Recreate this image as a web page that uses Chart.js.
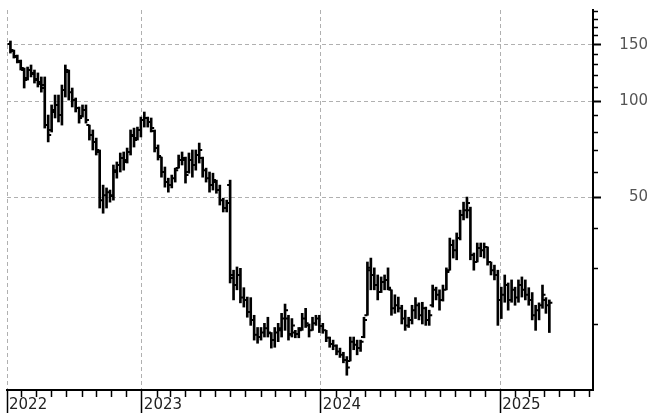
<!DOCTYPE html>
<html>
<head>
<meta charset="utf-8">
<script src="https://cdn.jsdelivr.net/npm/chart.js@4"></script>
<style>
  body { margin: 0; background: #fff; }
  canvas { display: block; }
</style>
</head>
<body>
<canvas id="myChart" width="648" height="413"></canvas>
<script>
// weekly OHLC, first bar in the week of 2022-04-08
const firstWeek = Date.UTC(2022, 3, 8);

const opens = [150.8, 143.3, 137.2, 132.4, 125.0, 118.0, 125.0, 122.4, 117.2, 114.7,
  112.2, 84.1, 81.2, 92.4, 97.2, 90.4, 108.2, 123.3, 106.6, 100.7,
  95.1, 89.7, 93.7, 84.1, 78.3, 74.5, 69.3, 49.0, 50.8, 51.9,
  50.8, 60.0, 63.1, 66.4, 65.4, 69.3, 77.8, 76.6, 81.2, 87.2,
  88.5, 86.0, 80.6, 71.3, 66.8, 60.0, 55.8, 54.6, 57.4, 61.7,
  65.4, 65.4, 60.0, 65.4, 63.1, 67.8, 66.4, 60.8, 57.4, 54.6,
  55.8, 52.7, 49.0, 46.3, 54.6, 28.0, 26.6, 28.6, 24.3, 23.9,
  21.9, 20.7, 18.6, 18.3, 18.9, 19.5, 18.8, 17.9, 18.9, 19.2,
  20.9, 20.9, 18.7, 18.9, 18.7, 19.5, 20.9, 19.9, 19.2, 20.2,
  20.9, 19.8, 19.2, 18.2, 17.4, 17.2, 16.5, 16.1, 15.5, 15.4,
  17.7, 17.3, 16.9, 18.3, 21.4, 30.1, 28.6, 26.6, 25.3, 27.2,
  27.6, 25.7, 22.5, 23.0, 22.5, 20.9, 19.9, 20.7, 22.2, 23.0,
  21.4, 22.5, 20.7, 23.0, 25.7, 24.8, 23.9, 25.7, 29.6, 35.5,
  34.2, 37.3, 44.0, 45.6, 45.6, 33.0, 31.4, 34.7, 34.2, 35.0,
  31.4, 29.6, 28.6, 23.9, 24.8, 26.6, 23.9, 25.7, 24.3, 26.6,
  25.7, 24.8, 23.9, 21.4, 22.2, 23.0, 23.9, 23.0];

const highs = [154.0, 144.3, 139.2, 134.3, 126.8, 127.7, 129.6, 125.0, 122.4, 118.9,
  118.9, 90.4, 97.2, 104.4, 104.4, 112.2, 129.6, 125.0, 109.8, 102.2,
  95.8, 97.2, 97.2, 84.1, 81.2, 76.6, 70.3, 54.6, 53.5, 52.7,
  63.1, 64.5, 68.8, 69.3, 71.3, 81.2, 82.3, 82.9, 89.1, 92.4,
  89.1, 88.5, 81.2, 72.9, 66.8, 62.2, 57.4, 58.7, 61.7, 67.8,
  69.3, 66.8, 68.8, 70.3, 70.3, 73.9, 66.8, 61.7, 60.0, 59.5,
  56.6, 54.6, 49.7, 49.0, 56.6, 29.6, 30.3, 30.0, 26.1, 24.4,
  24.3, 21.4, 19.6, 19.6, 20.2, 21.1, 18.9, 19.6, 20.2, 21.7,
  23.2, 21.4, 20.9, 19.2, 19.6, 21.7, 22.5, 20.1, 21.1, 21.4,
  21.4, 20.2, 19.2, 18.3, 17.9, 17.3, 16.9, 16.4, 15.9, 18.3,
  18.3, 17.9, 17.9, 21.1, 31.4, 32.3, 30.1, 28.6, 28.2, 28.6,
  30.1, 25.7, 24.8, 24.4, 23.0, 22.2, 21.1, 23.0, 24.3, 23.4,
  23.5, 22.7, 22.2, 26.6, 26.2, 25.7, 26.6, 30.1, 37.3, 36.8,
  38.7, 45.6, 48.3, 50.1, 46.6, 33.5, 36.0, 36.0, 36.0, 35.0,
  31.4, 30.7, 29.6, 26.2, 28.6, 27.0, 27.6, 26.2, 27.6, 28.2,
  27.6, 26.1, 25.2, 23.0, 23.4, 26.6, 24.3, 23.9];

const lows = [141.2, 136.2, 131.5, 125.0, 109.8, 116.3, 118.9, 113.8, 110.6, 106.6,
  82.3, 74.5, 80.0, 88.5, 86.0, 84.1, 102.9, 100.7, 95.8, 92.4,
  85.3, 89.1, 85.3, 75.5, 70.3, 67.8, 46.3, 44.6, 46.3, 48.3,
  49.0, 57.4, 60.0, 60.8, 64.0, 67.8, 71.8, 75.5, 77.2, 82.9,
  82.9, 80.0, 69.3, 65.4, 57.8, 53.8, 51.9, 53.5, 55.8, 61.7,
  63.1, 55.4, 59.5, 57.8, 60.8, 64.0, 57.8, 55.8, 51.9, 52.7,
  51.5, 47.3, 45.0, 45.0, 27.0, 23.9, 25.7, 23.4, 22.7, 21.1,
  19.9, 17.9, 17.5, 17.9, 18.3, 18.3, 16.9, 17.0, 17.7, 18.3,
  19.2, 17.9, 18.3, 18.2, 18.2, 19.2, 19.6, 18.3, 19.2, 19.9,
  18.9, 18.8, 17.7, 17.0, 16.7, 16.1, 15.8, 15.2, 13.9, 15.4,
  16.7, 16.1, 16.5, 18.2, 21.4, 25.7, 25.7, 23.9, 25.2, 25.7,
  25.7, 21.4, 21.7, 21.9, 20.1, 19.2, 19.6, 20.1, 20.9, 20.7,
  20.1, 19.9, 19.9, 22.7, 23.9, 22.2, 23.7, 25.7, 29.6, 32.3,
  31.9, 36.8, 42.5, 43.1, 31.9, 29.6, 31.4, 32.6, 32.3, 30.7,
  28.6, 27.6, 19.9, 20.9, 23.5, 22.2, 23.5, 23.0, 23.5, 24.4,
  23.9, 23.0, 20.7, 19.2, 20.7, 22.5, 21.7, 18.9];

const closes = [144.3, 138.2, 133.4, 126.8, 116.3, 125.0, 121.5, 116.3, 113.0, 109.8,
  84.1, 78.3, 93.7, 97.2, 90.4, 108.2, 125.0, 106.6, 100.7, 95.1,
  88.5, 93.7, 87.2, 78.3, 74.5, 70.3, 49.0, 50.8, 51.9, 50.5,
  60.8, 63.1, 66.4, 64.5, 69.3, 78.3, 75.5, 81.2, 87.2, 88.5,
  86.0, 82.3, 71.3, 67.3, 60.0, 55.8, 54.6, 57.4, 60.8, 65.4,
  66.4, 58.7, 65.4, 63.1, 67.8, 70.3, 60.8, 57.4, 54.6, 56.6,
  52.7, 49.0, 46.3, 48.0, 28.6, 26.6, 28.6, 24.3, 23.9, 21.9,
  20.7, 18.6, 18.3, 18.9, 19.5, 18.9, 17.9, 18.9, 19.5, 20.9,
  22.2, 18.6, 19.9, 18.7, 19.2, 20.9, 20.2, 19.2, 20.2, 20.9,
  19.8, 19.2, 18.2, 17.4, 17.2, 16.5, 16.1, 15.5, 14.7, 17.7,
  17.3, 16.9, 17.7, 20.7, 29.6, 28.6, 26.6, 25.3, 27.2, 27.6,
  26.1, 22.5, 23.0, 22.5, 20.9, 19.9, 20.7, 22.2, 23.0, 21.4,
  22.5, 20.7, 21.4, 25.7, 24.8, 23.9, 25.7, 29.2, 35.5, 34.2,
  37.3, 44.0, 45.6, 48.0, 33.0, 31.4, 34.7, 34.2, 35.0, 31.4,
  29.6, 28.6, 23.9, 24.8, 26.6, 23.9, 25.7, 24.3, 26.6, 25.7,
  24.8, 23.9, 21.4, 22.2, 23.0, 24.8, 23.0, 23.4];

// price axis
const priceLabels = [50, 100, 150];
const priceTicks = [20, 30, 40, 50, 60, 70, 80, 90, 100, 110, 120, 130, 140, 150, 160, 170, 180, 190];

// time axis
const yearTicks = [Date.UTC(2022, 3, 1), Date.UTC(2023, 0, 1), Date.UTC(2024, 0, 1), Date.UTC(2025, 0, 1)];
const yearLabels = ["2022", "2023", "2024", "2025"];
const xMin = Date.UTC(2022, 3, 1);
const xMax = Date.UTC(2025, 6, 9);

const DAY = 24 * 3600 * 1000;
const weekDates = highs.map((h, i) => firstWeek + i * 7 * DAY);

const monthTicks = [];
for (let y = 2022; y <= 2025; y++) {
  for (let m = 0; m < 12; m++) {
    const t = Date.UTC(y, m, 1);
    if (t >= xMin && t <= xMax) monthTicks.push(t);
  }
}

// no extra room for edge labels, the plot area is set by layout padding
function noEdgePadding(scale) {
  scale.paddingTop = 0;
  scale.paddingBottom = 0;
  scale.paddingLeft = 0;
  scale.paddingRight = 0;
}

// open tick on the left, close tick on the right of each bar
const ohlcTicks = {
  id: "ohlcTicks",
  afterDatasetsDraw(chart) {
    const { ctx } = chart;
    const x = chart.scales.x;
    const y = chart.scales.y;
    ctx.save();
    ctx.strokeStyle = "#000";
    ctx.lineWidth = 2;
    ctx.beginPath();
    weekDates.forEach((d, i) => {
      const px = x.getPixelForValue(d);
      const yo = y.getPixelForValue(opens[i]);
      const yc = y.getPixelForValue(closes[i]);
      ctx.moveTo(px - 3, yo);
      ctx.lineTo(px, yo);
      ctx.moveTo(px, yc);
      ctx.lineTo(px + 3, yc);
    });
    ctx.stroke();
    ctx.restore();
  },
};

Chart.defaults.font.family = "DejaVu Sans";

new Chart("myChart", {
  type: "bar",
  data: {
    datasets: [
      {
        label: "High-Low",
        data: weekDates.map((d, i) => ({ x: d, y: [lows[i], highs[i]] })),
        backgroundColor: "#000",
        borderWidth: 0,
        barThickness: 2,
      },
    ],
  },
  options: {
    responsive: false,
    animation: false,
    layout: { padding: { left: 7, top: 10, right: 0, bottom: 0 } },
    plugins: {
      legend: { display: false },
      tooltip: { enabled: false },
    },
    scales: {
      x: {
        type: "linear",
        position: "bottom",
        min: xMin,
        max: xMax,
        offset: false,
        afterBuildTicks: (scale) => {
          scale.ticks = monthTicks.map((v) => ({ value: v }));
        },
        afterFit: (scale) => {
          scale.height = 7;
          noEdgePadding(scale);
        },
        ticks: { display: false, autoSkip: false },
        grid: {
          offset: false,
          drawOnChartArea: false,
          tickLength: 7,
          tickColor: "#000",
          tickWidth: 1.5,
        },
        border: { display: true, color: "#000", width: 2 },
      },
      x2: {
        type: "linear",
        position: "bottom",
        min: xMin,
        max: xMax,
        offset: false,
        afterBuildTicks: (scale) => {
          scale.ticks = yearTicks.map((v) => ({ value: v }));
        },
        afterFit: (scale) => {
          scale.height = 16;
          noEdgePadding(scale);
        },
        ticks: {
          autoSkip: false,
          maxRotation: 0,
          align: "start",
          labelOffset: 2,
          padding: -17,
          color: "#222",
          font: { size: 15 },
          callback: (v) => yearLabels[yearTicks.indexOf(v)],
        },
        grid: {
          offset: false,
          color: "#b0b0b0",
          lineWidth: 1,
          tickLength: 16,
          tickColor: "#000",
          tickWidth: 1.5,
          tickBorderDash: [],
        },
        border: { display: false, dash: [4, 3] },
      },
      y: {
        type: "logarithmic",
        position: "right",
        min: 12.5,
        max: 192.5,
        afterBuildTicks: (scale) => {
          scale.ticks = priceTicks.map((v) => ({ value: v }));
        },
        afterFit: (scale) => {
          scale.width = 55;
          noEdgePadding(scale);
        },
        ticks: {
          autoSkip: false,
          crossAlign: "far",
          padding: 16,
          color: "#555",
          font: { size: 15 },
          callback: (v) => (priceLabels.includes(v) ? String(v) : ""),
        },
        grid: {
          color: (c) => (c.tick && priceLabels.includes(c.tick.value) ? "#b0b0b0" : "rgba(0,0,0,0)"),
          lineWidth: 1,
          tickLength: 8,
          tickColor: "#000",
          tickWidth: (c) => (c.tick && priceLabels.includes(c.tick.value) ? 2 : 1.5),
          tickBorderDash: (c) => (c.tick && priceLabels.includes(c.tick.value) ? [] : [4, 20]),
        },
        border: { display: true, color: "#000", width: 2, dash: [4, 3] },
      },
    },
  },
  plugins: [ohlcTicks],
});
</script>
</body>
</html>
